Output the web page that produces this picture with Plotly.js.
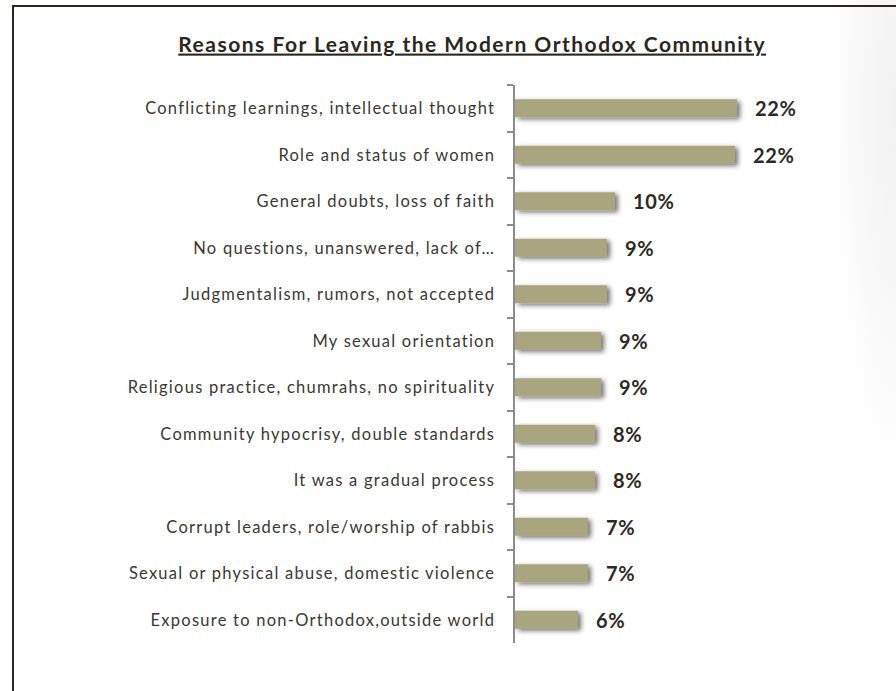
<!DOCTYPE html>
<html>
<head>
<meta charset="utf-8">
<script src="https://cdn.plot.ly/plotly-3.0.1.min.js"></script>
<style>
html,body{margin:0;padding:0;overflow:hidden;}
body{background:#fff radial-gradient(ellipse 70px 380px at 896px 110px, #f1f1f1 0%, #f8f8f8 50%, rgba(255,255,255,0) 100%) no-repeat;width:896px;height:691px;}
#chart{position:absolute;left:0;top:0;width:896px;height:691px;}
#frame{position:absolute;left:12px;top:5px;width:1000px;height:1000px;border:2px solid #2b2720;pointer-events:none;}
.ytick text{letter-spacing:1.25px;}
.annotation-text{letter-spacing:0.6px;}
.gtitle{letter-spacing:1.5px;}
</style>
</head>
<body>
<div id="chart"></div>
<div id="frame"></div>
<script>
const categories = [
  "Conflicting learnings, intellectual thought",
  "Role and status of women",
  "General doubts, loss of faith",
  "No questions, unanswered, lack of…",
  "Judgmentalism, rumors, not accepted",
  "My sexual orientation",
  "Religious practice, chumrahs, no spirituality",
  "Community hypocrisy, double standards",
  "It was a gradual process",
  "Corrupt leaders, role/worship of rabbis",
  "Sexual or physical abuse, domestic violence",
  "Exposure to non-Orthodox,outside world"
];
const values = [22.2, 22.0, 10.0, 9.2, 9.2, 8.6, 8.6, 8.0, 8.0, 7.3, 7.3, 6.3];
const valueLabels = ["22%", "22%", "10%", "9%", "9%", "9%", "9%", "8%", "8%", "7%", "7%", "6%"];
const chartTitle = "Reasons For Leaving the Modern Orthodox Community";

const trace = {
  type: 'bar',
  orientation: 'h',
  x: values,
  y: categories,
  width: 0.39,
  marker: {color: '#a9a57f', line: {width: 0}},
  hoverinfo: 'none'
};

const annotations = values.map((v, i) => ({
  x: v, y: categories[i], xref: 'x', yref: 'y',
  text: '<b>' + valueLabels[i] + '</b>',
  showarrow: false, xanchor: 'left', yanchor: 'middle', xshift: 16, yshift: 0,
  font: {family: 'Lato, sans-serif', size: 20, color: '#2d2a25'}
}));

const layout = {
  width: 896, height: 691,
  margin: {l: 515, r: 81, t: 85, b: 48, pad: 0},
  paper_bgcolor: 'rgba(0,0,0,0)',
  plot_bgcolor: 'rgba(0,0,0,0)',
  showlegend: false,
  title: {
    text: '<b>' + chartTitle + '</b>',
    font: {family: 'Lato, sans-serif', size: 21, color: '#2b2720', lineposition: 'under'},
    xref: 'container', yref: 'container', x: 0.527, y: 0.936, xanchor: 'center', yanchor: 'middle'
  },
  xaxis: {
    range: [0, 30], visible: false, showgrid: false, zeroline: false, fixedrange: true
  },
  yaxis: {
    type: 'category',
    range: [11.5, -0.5],
    showline: true, linecolor: '#8c8c8c', linewidth: 2.5,
    ticks: 'outside', tickson: 'boundaries', ticklen: 6, tickwidth: 2, tickcolor: '#8c8c8c',
    ticklabelstandoff: 14,
    showgrid: false, zeroline: false,
    tickfont: {family: 'Lato, sans-serif', size: 16.5, color: '#3a3833'},
    fixedrange: true
  },
  annotations: annotations
};

Plotly.newPlot('chart', [trace], layout, {displayModeBar: false, staticPlot: true}).then(function(gd){
  const svg = gd.querySelector('svg.main-svg');
  const ns = 'http://www.w3.org/2000/svg';
  let defs = svg.querySelector('defs');
  if (!defs) { defs = document.createElementNS(ns, 'defs'); svg.insertBefore(defs, svg.firstChild); }
  const f = document.createElementNS(ns, 'filter');
  f.setAttribute('id', 'barShadow');
  f.setAttribute('x', '-10%'); f.setAttribute('y', '-60%');
  f.setAttribute('width', '130%'); f.setAttribute('height', '230%');
  f.innerHTML = '<feDropShadow dx="3" dy="2" stdDeviation="2.5" flood-color="#000" flood-opacity="0.55"/>';
  defs.appendChild(f);
  gd.querySelectorAll('.bars .point path').forEach(p => p.setAttribute('filter', 'url(#barShadow)'));
});
</script>
</body>
</html>
